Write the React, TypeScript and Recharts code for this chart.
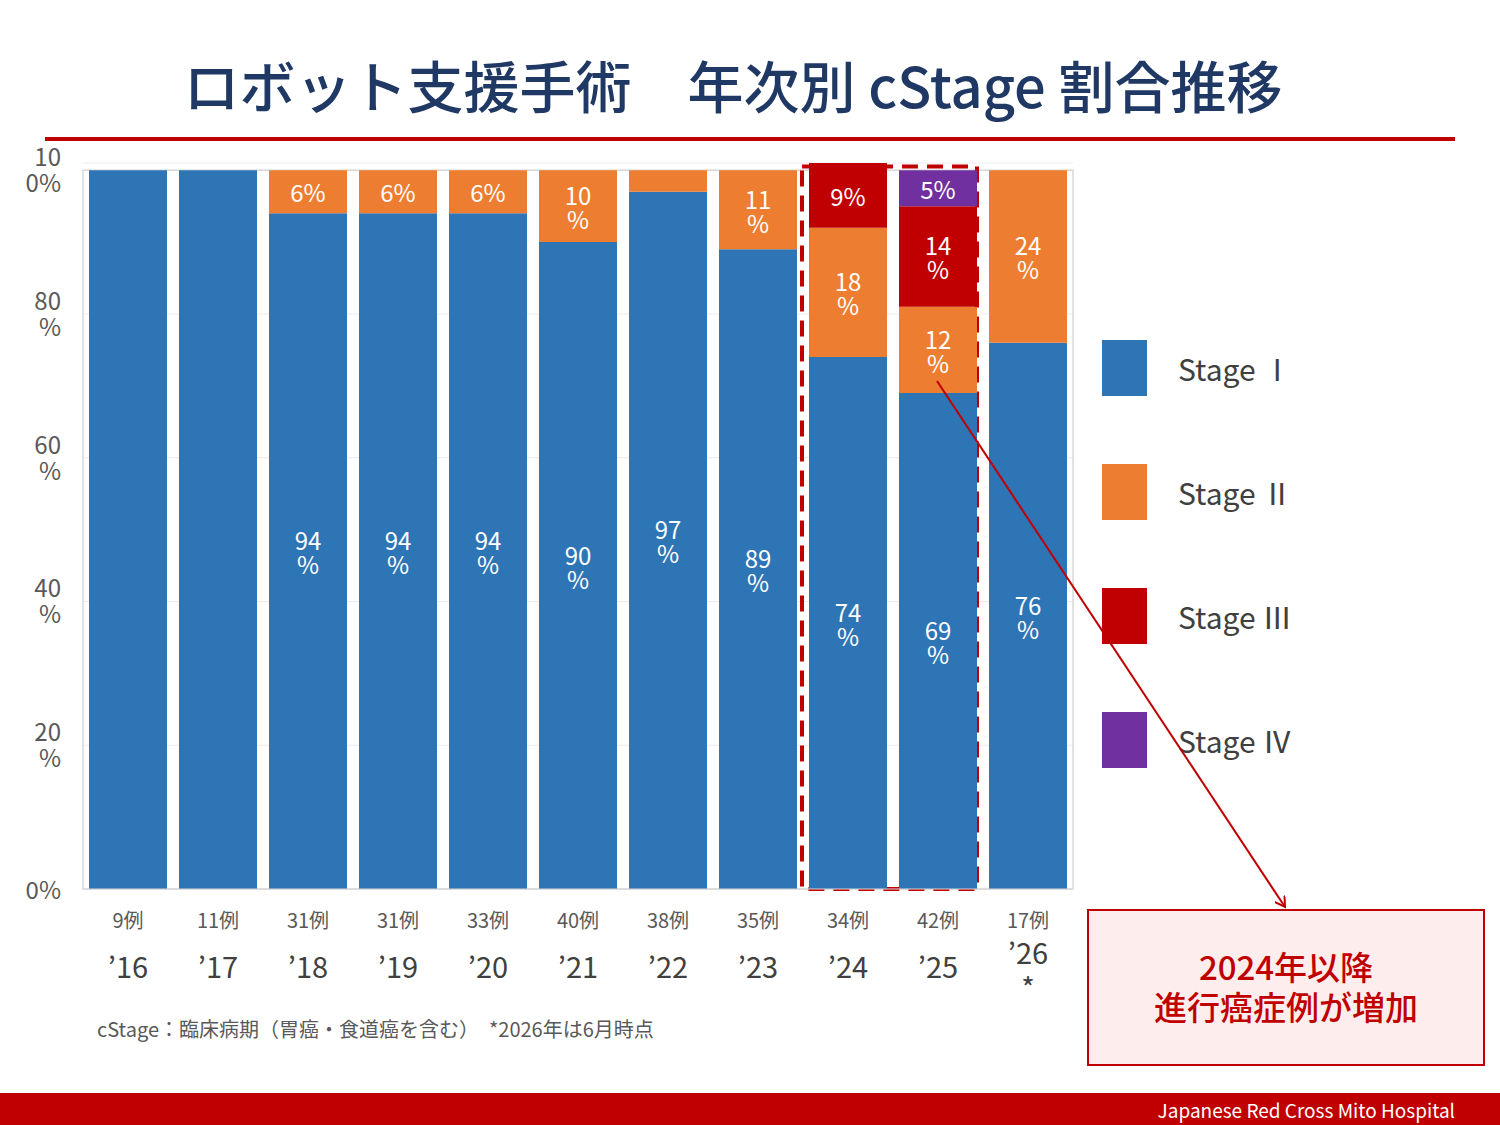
import React from "react";
import { BarChart, Bar, XAxis, YAxis, CartesianGrid, LabelList, ReferenceArea } from "recharts";

const years = ["’16", "’17", "’18", "’19", "’20", "’21", "’22", "’23", "’24", "’25", "’26"];
const yearNotes = ["", "", "", "", "", "", "", "", "", "", "*"];
const caseCounts = ["9例", "11例", "31例", "31例", "33例", "40例", "38例", "35例", "34例", "42例", "17例"];
const stage1 = [100, 100, 94, 94, 94, 90, 97, 89, 74, 69, 76];
const stage2 = [0, 0, 6, 6, 6, 10, 3, 11, 18, 12, 24];
const stage3 = [0, 0, 0, 0, 0, 0, 0, 0, 9, 14, 0];
const stage4 = [0, 0, 0, 0, 0, 0, 0, 0, 0, 5, 0];
const stageKeys = ["s1", "s2", "s3", "s4"];
const stageNames = ["Stage Ⅰ", "Stage Ⅱ", "Stage Ⅲ", "Stage Ⅳ"];
const stageColors = ["#2e75b6", "#ed7d31", "#c00000", "#7030a0"];
const yTicks = [0, 20, 40, 60, 80, 100];

const data = years.map((y, i) => ({
  year: y,
  s1: stage1[i],
  s2: stage2[i],
  s3: stage3[i],
  s4: stage4[i],
}));

const FONT = '"Noto Sans CJK JP", "Noto Sans", sans-serif';

const renderLabel = (props: any) => {
  const { x, y, width, height, value } = props;
  if (!value || value >= 100 || value < 5) return null;
  const cx = x + width / 2;
  const cy = y + height / 2;
  const style = { fill: "#ffffff", fontSize: 24, fontFamily: FONT };
  if (value >= 10) {
    return (
      <text x={cx} y={cy - 12} textAnchor="middle" dominantBaseline="central" style={style}>
        <tspan x={cx} y={cy - 12}>{value}</tspan>
        <tspan x={cx} y={cy + 12}>%</tspan>
      </text>
    );
  }
  return (
    <text x={cx} y={cy} textAnchor="middle" dominantBaseline="central" style={style}>{`${value}%`}</text>
  );
};

const YTick = (props: any) => {
  const { x, y, payload } = props;
  const v = payload.value;
  const lines = v === 100 ? ["10", "0%"] : v === 0 ? ["0%"] : [`${v}`, "%"];
  const style = { fill: "#595959", fontSize: 24, fontFamily: FONT };
  if (lines.length === 1) {
    return <text x={x} y={y - 1} textAnchor="end" dominantBaseline="central" style={style}>{lines[0]}</text>;
  }
  return (
    <text x={x} y={y - 15} textAnchor="end" dominantBaseline="central" style={style}>
      <tspan x={x} y={y - 15}>{lines[0]}</tspan>
      <tspan x={x} y={y + 11}>{lines[1]}</tspan>
    </text>
  );
};

const XTick = (props: any) => {
  const { x, y, payload, index } = props;
  const note = yearNotes[index];
  return (
    <g>
      <text x={x} y={y + 22} textAnchor="middle" dominantBaseline="central" style={{ fill: "#595959", fontSize: 20, fontFamily: FONT }}>
        {caseCounts[index]}
      </text>
      {note ? (
        <text x={x} y={y + 54} textAnchor="middle" dominantBaseline="central" style={{ fill: "#404040", fontSize: 29, fontFamily: FONT }}>
          <tspan x={x} y={y + 54}>{payload.value}</tspan>
          <tspan x={x} y={y + 89}>{note}</tspan>
        </text>
      ) : (
        <text x={x} y={y + 68} textAnchor="middle" dominantBaseline="central" style={{ fill: "#404040", fontSize: 29, fontFamily: FONT }}>
          {payload.value}
        </text>
      )}
    </g>
  );
};

const FocusBox = (p: any) => (
  <rect x={p.x - 1} y={p.y} width={p.width - 5} height={p.height} fill="none" stroke="#c00000" strokeWidth={4} strokeDasharray="16 9" />
);

export default function App() {
  return (
    <div style={{ position: "absolute", left: 0, top: 0, width: 1500, height: 1125, background: "#ffffff", overflow: "hidden", fontFamily: FONT }}>
      <div style={{ position: "absolute", left: 0, top: 46, width: 1466, textAlign: "center", fontSize: 56, fontWeight: 500, color: "#203864", lineHeight: "76px", whiteSpace: "pre" }}>
        {"ロボット支援手術　年次別 cStage 割合推移"}
      </div>
      <div style={{ position: "absolute", left: 45, top: 137, width: 1410, height: 4, background: "#c00000" }} />

      <div style={{ position: "absolute", left: 0, top: 0 }}>
        <BarChart
          width={1500}
          height={1125}
          data={data}
          margin={{ top: 163, right: 427, bottom: 126, left: 23 }}
          barCategoryGap={6}
        >
          <CartesianGrid vertical={false} stroke="#ececec" />
          <ReferenceArea x1="’16" x2="’26" y1={0} y2={100} fill="none" stroke="#d9d9d9" strokeWidth={1.5} ifOverflow="visible" />
          <XAxis dataKey="year" height={110} tick={<XTick />} tickLine={false} axisLine={{ stroke: "#d9d9d9" }} interval={0} />
          <YAxis width={60} domain={[0, 101]} ticks={yTicks} tick={<YTick />} tickLine={false} axisLine={false} tickSize={0} tickMargin={22} />
          {stageKeys.map((k, i) => (
            <Bar key={k} dataKey={k} name={stageNames[i]} stackId="a" fill={stageColors[i]} isAnimationActive={false}>
              <LabelList dataKey={k} content={renderLabel} />
            </Bar>
          ))}
          <ReferenceArea x1="’24" x2="’25" y1={0} y2={100.5} ifOverflow="visible" shape={FocusBox} />
        </BarChart>
      </div>

      <div style={{ position: "absolute", left: 1102, top: 340, width: 300, height: 440 }}>
        {stageNames.map((name, i) => (
          <div key={name} style={{ position: "absolute", left: 0, top: i * 124, height: 56, display: "flex", alignItems: "center" }}>
            <div style={{ width: 45, height: 56, background: stageColors[i] }} />
            <span style={{ marginLeft: 31, fontSize: 30, color: "#404040", fontFamily: FONT, whiteSpace: "pre" }}>{name}</span>
          </div>
        ))}
      </div>

      <div style={{ position: "absolute", left: 97, top: 1015, fontSize: 20, color: "#595959", whiteSpace: "pre", lineHeight: "28px" }}>
        {"cStage：臨床病期（胃癌・食道癌を含む）　*2026年は6月時点"}
      </div>

      <div style={{ position: "absolute", left: 1087, top: 909, width: 394, height: 153, border: "2.5px solid #c00000", background: "#fdeded", display: "flex", flexDirection: "column", justifyContent: "center", alignItems: "center" }}>
        <div style={{ color: "#c00000", fontSize: 33, fontWeight: 500, lineHeight: "40px", textAlign: "center", marginTop: -4 }}>2024年以降</div>
        <div style={{ color: "#c00000", fontSize: 33, fontWeight: 500, lineHeight: "40px", textAlign: "center" }}>進行癌症例が増加</div>
      </div>

      <svg width={1500} height={1125} style={{ position: "absolute", left: 0, top: 0, pointerEvents: "none" }}>
        <defs>
          <marker id="arrowHead" markerWidth="12" markerHeight="12" refX="10" refY="6" orient="auto" markerUnits="userSpaceOnUse">
            <path d="M0,0 L10,6 L0,12" fill="none" stroke="#c00000" strokeWidth="2" />
          </marker>
        </defs>
        <line x1={937} y1={381} x2={1285} y2={907} stroke="#c00000" strokeWidth={2} markerEnd="url(#arrowHead)" />
      </svg>

      <div style={{ position: "absolute", left: 0, top: 1093, width: 1500, height: 32, background: "#c00000" }}>
        <div style={{ position: "absolute", right: 45, top: 0, lineHeight: "34px", fontSize: 19, color: "#ffffff", fontFamily: FONT }}>
          Japanese Red Cross Mito Hospital
        </div>
      </div>
    </div>
  );
}
